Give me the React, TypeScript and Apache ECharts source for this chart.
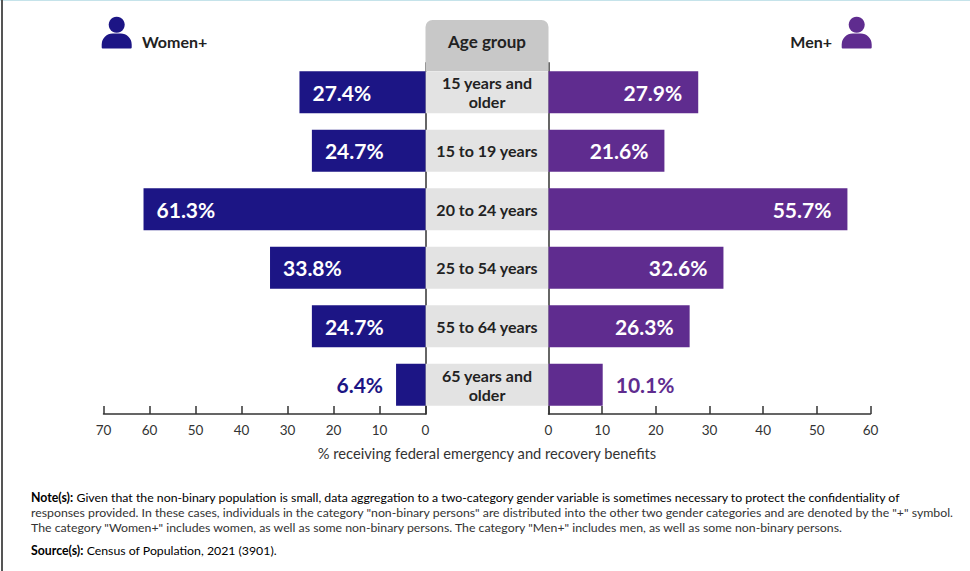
import React, { useEffect, useRef } from "react";
import * as echarts from "echarts";

const ageGroups = ["15 years and\nolder", "15 to 19 years", "20 to 24 years", "25 to 54 years", "55 to 64 years", "65 years and\nolder"];
const womenValues = [27.4, 24.7, 61.3, 33.8, 24.7, 6.4];
const menValues = [27.9, 21.6, 55.7, 32.6, 26.3, 10.1];
const bandValues = [1, 1, 1, 1, 1, 1];
const noteLines = [
  "Given that the non-binary population is small, data aggregation to a two-category gender variable is sometimes necessary to protect the confidentiality of",
  "responses provided. In these cases, individuals in the category \"non-binary persons\" are distributed into the other two gender categories and are denoted by the \"+\" symbol.",
  "The category \"Women+\" includes women, as well as some non-binary persons. The category \"Men+\" includes men, as well as some non-binary persons.",
];
const sourceLine = "Census of Population, 2021 (3901).";
const axisTitle = "% receiving federal emergency and recovery benefits";

const FONT = "Lato, 'Noto Sans', sans-serif";
const NAVY = "#1c1585";
const PURPLE = "#5f2c8f";
const INK = "#222222";
const GRID_TOP = 63;
const GRID_HEIGHT = 351;
const NOTE_SIZE = 12.3;

// Values too small to hold their label inside the bar get it outside, in the bar's colour.
const OUTSIDE_LIMIT = 15;

function barData(values: number[], color: string, inside: string, outside: string, insideGap: number) {
  return values.map((value) => ({
    value,
    label:
      value < OUTSIDE_LIMIT
        ? { position: outside, distance: 13, color }
        : { position: inside, distance: insideGap, color: "#ffffff" },
  }));
}

function valueAxis(gridIndex: number, max: number, inverse: boolean) {
  return {
    type: "value",
    gridIndex,
    min: 0,
    max,
    interval: 10,
    inverse,
    axisLine: { show: true, onZero: false, lineStyle: { color: "#333333", width: 1.5 } },
    axisTick: { show: true, inside: true, length: 8, lineStyle: { color: "#333333", width: 1.5 } },
    axisLabel: { color: "#333333", fontFamily: FONT, fontSize: 13.5, margin: 9, hideOverlap: false },
    splitLine: { show: false },
  };
}

function categoryAxis(gridIndex: number, position: string, showLine: boolean) {
  return {
    type: "category",
    gridIndex,
    data: ageGroups,
    inverse: true,
    position,
    axisLine: { show: showLine, lineStyle: { color: "#666666", width: 2 } },
    axisTick: { show: false },
    axisLabel: { show: false },
  };
}

function person(cx: number, color: string) {
  return [
    { type: "circle", z: 10, shape: { cx, cy: 24.7, r: 8 }, style: { fill: color } },
    {
      type: "rect",
      z: 10,
      shape: { x: cx - 15, y: 33.5, width: 30, height: 15, r: [11, 11, 1, 1] },
      style: { fill: color },
    },
  ];
}

function plainText(x: number, y: number, text: string, extra: Record<string, unknown> = {}) {
  return {
    type: "text",
    z: 10,
    x,
    y,
    style: { text, fontFamily: FONT, fontSize: NOTE_SIZE, fill: "#333333", textVerticalAlign: "middle", ...extra },
  };
}

// A note line that opens with a bold lead-in
function leadText(x: number, y: number, lead: string, body: string) {
  return {
    type: "text",
    z: 10,
    x,
    y,
    style: {
      text: `{b|${lead}} {r|${body}}`,
      textVerticalAlign: "middle",
      rich: {
        b: { fontFamily: FONT, fontSize: NOTE_SIZE, fontWeight: 700, color: INK },
        r: { fontFamily: FONT, fontSize: NOTE_SIZE, color: "#333333" },
      },
    },
  };
}

const barLabelBase = {
  show: true,
  fontFamily: FONT,
  fontSize: 21,
  fontWeight: 700,
  formatter: (p: { value: number }) => `${p.value}%`,
};

export default function App() {
  const ref = useRef<HTMLDivElement>(null);

  useEffect(() => {
    document.body.style.margin = "0";
    const chart = echarts.init(ref.current!, undefined, { renderer: "svg" });
    chart.setOption({
      animation: false,
      backgroundColor: "#ffffff",
      grid: [
        { left: 103.5, width: 322, top: GRID_TOP, height: GRID_HEIGHT },
        { left: 548.5, width: 322, top: GRID_TOP, height: GRID_HEIGHT },
        { left: 425.5, width: 123, top: GRID_TOP, height: GRID_HEIGHT },
      ],
      xAxis: [
        valueAxis(0, 70, true),
        valueAxis(1, 60, false),
        { type: "value", gridIndex: 2, min: 0, max: 1, show: false },
      ],
      yAxis: [
        categoryAxis(0, "right", true),
        categoryAxis(1, "left", true),
        { ...categoryAxis(2, "left", false), show: false },
      ],
      series: [
        {
          type: "bar",
          name: "Age group",
          xAxisIndex: 2,
          yAxisIndex: 2,
          data: bandValues,
          barWidth: 42,
          itemStyle: { color: "#e3e3e3" },
          label: {
            show: true,
            position: "inside",
            formatter: (p: { name: string }) => p.name,
            fontFamily: FONT,
            fontSize: 16,
            fontWeight: 700,
            lineHeight: 19,
            color: INK,
          },
        },
        {
          type: "bar",
          name: "Women+",
          xAxisIndex: 0,
          yAxisIndex: 0,
          data: barData(womenValues, NAVY, "insideLeft", "left", 13),
          barWidth: 42,
          itemStyle: { color: NAVY },
          label: barLabelBase,
        },
        {
          type: "bar",
          name: "Men+",
          xAxisIndex: 1,
          yAxisIndex: 1,
          data: barData(menValues, PURPLE, "insideRight", "right", 16),
          barWidth: 42,
          itemStyle: { color: PURPLE },
          label: barLabelBase,
        },
      ],
      graphic: [
        // Page frame: thin top rule and dark left rule
        { type: "rect", z: 10, shape: { x: 0, y: 0, width: 970, height: 1 }, style: { fill: "#c5e3ea" } },
        { type: "rect", z: 10, shape: { x: 1, y: 0, width: 2, height: 571 }, style: { fill: "#555555" } },
        // Central column header
        {
          type: "rect",
          z: 10,
          shape: { x: 425.5, y: 20, width: 123, height: 51, r: [7, 7, 0, 0] },
          style: { fill: "#c8c8c8" },
        },
        plainText(487, 41.5, "Age group", { fontSize: 17, fontWeight: 700, fill: INK, textAlign: "center" }),
        ...person(116.7, NAVY),
        ...person(856.7, PURPLE),
        plainText(142, 41, "Women+", { fontSize: 16, fontWeight: 700, fill: INK }),
        plainText(832, 41, "Men+", { fontSize: 16, fontWeight: 700, fill: INK, textAlign: "right" }),
        plainText(487, 453, axisTitle, { fontSize: 14.7, textAlign: "center" }),
        // Notes and source
        leadText(31, 497.5, "Note(s):", noteLines[0]),
        plainText(31, 512.5, noteLines[1]),
        plainText(31, 527.5, noteLines[2]),
        leadText(31, 550, "Source(s):", sourceLine),
      ],
    });
    return () => chart.dispose();
  }, []);

  return <div ref={ref} style={{ width: 970, height: 571 }} />;
}
